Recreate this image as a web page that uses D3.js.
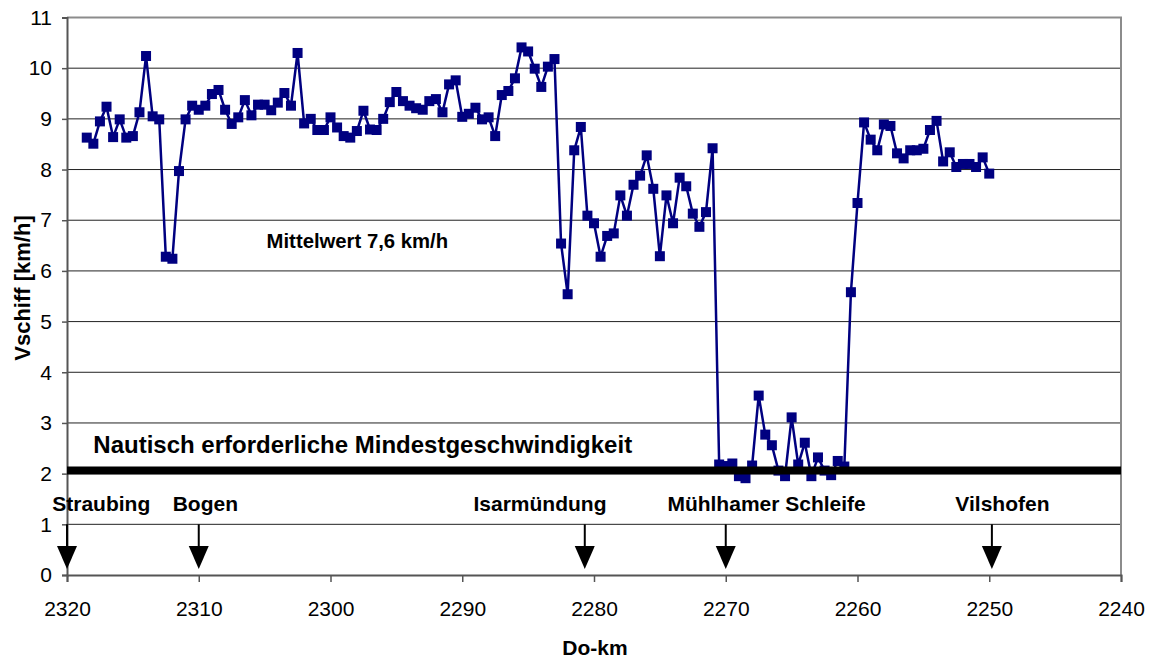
<!DOCTYPE html>
<html>
<head>
<meta charset="utf-8">
<script src="https://cdn.jsdelivr.net/npm/d3@7"></script>
<style>
  body { margin: 0; background: #fff; }
  text { font-family: "Liberation Sans", Arial, sans-serif; }
</style>
</head>
<body>
<div id="chart"></div>
<script>
// Do-km positions of the measurements
const km = [
  2318.5, 2318, 2317.5, 2317, 2316.5, 2316, 2315.5, 2315, 2314.5, 2314,
  2313.5, 2313, 2312.5, 2312, 2311.5, 2311, 2310.5, 2310, 2309.5, 2309,
  2308.5, 2308, 2307.5, 2307, 2306.5, 2306, 2305.5, 2305, 2304.5, 2304,
  2303.5, 2303, 2302.5, 2302, 2301.5, 2301, 2300.5, 2300, 2299.5, 2299,
  2298.5, 2298, 2297.5, 2297, 2296.5, 2296, 2295.5, 2295, 2294.5, 2294,
  2293.5, 2293, 2292.5, 2292, 2291.5, 2291, 2290.5, 2290, 2289.5, 2289,
  2288.5, 2288, 2287.5, 2287, 2286.5, 2286, 2285.5, 2285, 2284.5, 2284,
  2283.5, 2283, 2282.5, 2282, 2281.5, 2281, 2280.5, 2280, 2279.5, 2279,
  2278.5, 2278, 2277.5, 2277, 2276.5, 2276, 2275.5, 2275, 2274.5, 2274,
  2273.5, 2273, 2272.5, 2272, 2271.5, 2271, 2270.5, 2270, 2269.5, 2269,
  2268.5, 2268, 2267.5, 2267, 2266.5, 2266, 2265.5, 2265, 2264.5, 2264,
  2263.5, 2263, 2262.5, 2262, 2261.5, 2261, 2260.5, 2260, 2259.5, 2259,
  2258.5, 2258, 2257.5, 2257, 2256.5, 2256, 2255.5, 2255, 2254.5, 2254,
  2253.5, 2253, 2252.5, 2252, 2251.5, 2251, 2250.5, 2250
];

// ship speed in km/h
const vschiff = [
  8.63, 8.51, 8.95, 9.24, 8.64, 8.99, 8.63, 8.66, 9.13, 10.24,
  9.05, 8.99, 6.28, 6.24, 7.97, 8.99, 9.26, 9.18, 9.26, 9.49,
  9.57, 9.18, 8.90, 9.03, 9.37, 9.07, 9.28, 9.28, 9.17, 9.32,
  9.51, 9.26, 10.30, 8.91, 9.00, 8.78, 8.78, 9.03, 8.83, 8.66,
  8.63, 8.76, 9.16, 8.79, 8.78, 9.00, 9.33, 9.53, 9.35, 9.26,
  9.21, 9.18, 9.35, 9.39, 9.13, 9.68, 9.76, 9.04, 9.10, 9.22,
  8.99, 9.03, 8.66, 9.47, 9.55, 9.80, 10.41, 10.33, 9.99, 9.63,
  10.03, 10.18, 6.54, 5.54, 8.38, 8.84, 7.09, 6.94, 6.28, 6.69,
  6.74, 7.49, 7.09, 7.70, 7.88, 8.28, 7.62, 6.29, 7.49, 6.94,
  7.84, 7.67, 7.13, 6.87, 7.16, 8.42, 2.18, 2.15, 2.20, 1.95,
  1.91, 2.16, 3.54, 2.77, 2.56, 2.06, 1.95, 3.11, 2.18, 2.61,
  1.95, 2.32, 2.06, 1.97, 2.25, 2.14, 5.58, 7.34, 8.93, 8.59,
  8.38, 8.89, 8.86, 8.32, 8.22, 8.38, 8.38, 8.41, 8.78, 8.96,
  8.16, 8.34, 8.05, 8.11, 8.11, 8.05, 8.24, 7.92
];

const xTicks = [2320, 2310, 2300, 2290, 2280, 2270, 2260, 2250, 2240];
const yTicks = [0, 1, 2, 3, 4, 5, 6, 7, 8, 9, 10, 11];

const minSpeed = 2.06;
const places = ["Straubing", "Bogen", "Isarmündung", "Mühlhamer Schleife", "Vilshofen"];
const placeKm = [2320, 2310, 2280.7, 2270, 2249.8];
const placeLabelKm = [2317.4, 2309.5, 2284.1, 2266.9, 2249.0];

const width = 1154, height = 661;
const margin = {top: 17.5, right: 33, bottom: 86, left: 67};

const svg = d3.select("#chart").append("svg")
  .attr("width", width)
  .attr("height", height);

const x = d3.scaleLinear().domain([2320, 2240]).range([margin.left, width - margin.right]);
const y = d3.scaleLinear().domain([0, 11]).range([height - margin.bottom, margin.top]);

// gridlines
svg.append("g")
  .selectAll("line")
  .data(yTicks.slice(1, -1))
  .join("line")
  .attr("x1", x(2320)).attr("x2", x(2240))
  .attr("y1", d => y(d)).attr("y2", d => y(d))
  .attr("stroke", "#222").attr("stroke-width", 1);

// plot border (top / right)
svg.append("path")
  .attr("d", `M${x(2320)},${y(11)}H${x(2240)}V${y(0)}`)
  .attr("fill", "none").attr("stroke", "#8c8c8c").attr("stroke-width", 2);

// axes
const xAxis = svg.append("g")
  .attr("transform", `translate(0,${y(0)})`)
  .call(d3.axisBottom(x).tickValues(xTicks).tickSize(7).tickPadding(19).tickFormat(d3.format("d")));
const yAxis = svg.append("g")
  .attr("transform", `translate(${x(2320)},0)`)
  .call(d3.axisLeft(y).tickValues(yTicks).tickSize(5).tickPadding(10));

[xAxis, yAxis].forEach(a => {
  a.select(".domain").attr("stroke", "#555").attr("stroke-width", 2);
  a.selectAll(".tick line").attr("stroke", "#555").attr("stroke-width", 1.5);
  a.selectAll("text").attr("font-size", 21).attr("fill", "#000")
    .style("font-family", "'Liberation Sans', Arial, sans-serif");
});

// place arrows
const arrows = svg.append("g");
placeKm.forEach(k => {
  const px = x(k);
  arrows.append("line")
    .attr("x1", px).attr("x2", px)
    .attr("y1", y(1)).attr("y2", y(0) - 29)
    .attr("stroke", "#000").attr("stroke-width", 2);
  arrows.append("path")
    .attr("d", `M${px - 10},${y(0) - 29}L${px + 10},${y(0) - 29}L${px},${y(0) - 6}Z`)
    .attr("fill", "#000");
});
svg.append("g")
  .selectAll("text")
  .data(places)
  .join("text")
  .attr("x", (d, i) => x(placeLabelKm[i]))
  .attr("y", y(1.26))
  .attr("text-anchor", "middle")
  .attr("font-size", 21).attr("font-weight", "bold")
  .text(d => d);

// data line
const pts = km.map((k, i) => [k, vschiff[i]]);
svg.append("path")
  .datum(pts)
  .attr("fill", "none")
  .attr("stroke", "#000080")
  .attr("stroke-width", 2.5)
  .attr("d", d3.line().x(d => x(d[0])).y(d => y(d[1])));

svg.append("g")
  .selectAll("rect")
  .data(pts)
  .join("rect")
  .attr("x", d => x(d[0]) - 5)
  .attr("y", d => y(d[1]) - 5)
  .attr("width", 10).attr("height", 10)
  .attr("fill", "#000080");

// minimum speed line
svg.append("line")
  .attr("x1", x(2320)).attr("x2", x(2240))
  .attr("y1", y(minSpeed)).attr("y2", y(minSpeed))
  .attr("stroke", "#000").attr("stroke-width", 8);

svg.append("text")
  .attr("x", x(2318)).attr("y", y(2.41))
  .attr("font-size", 24).attr("font-weight", "bold")
  .text("Nautisch erforderliche Mindestgeschwindigkeit");

svg.append("text")
  .attr("x", x(2304.85)).attr("y", y(6.45))
  .attr("font-size", 20.3).attr("font-weight", "bold")
  .text("Mittelwert 7,6 km/h");

// axis titles
svg.append("text")
  .attr("x", 595).attr("y", 655)
  .attr("text-anchor", "middle")
  .attr("font-size", 21).attr("font-weight", "bold")
  .text("Do-km");

svg.append("text")
  .attr("transform", "translate(30,288) rotate(-90)")
  .attr("text-anchor", "middle")
  .attr("font-size", 22).attr("font-weight", "bold")
  .text("Vschiff [km/h]");
</script>
</body>
</html>
